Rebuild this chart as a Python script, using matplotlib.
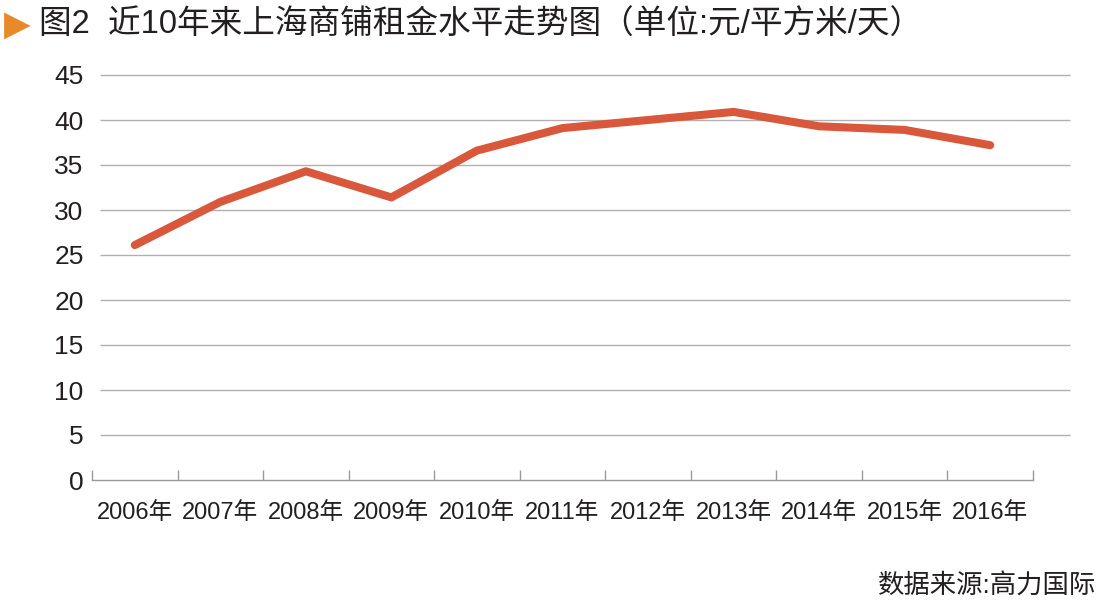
import numpy as np
import matplotlib.pyplot as plt

plt.rcParams['font.family'] = ['Liberation Sans', 'Noto Sans CJK SC']

# data
years = ['2006年', '2007年', '2008年', '2009年', '2010年', '2011年',
         '2012年', '2013年', '2014年', '2015年', '2016年']
rent = [26.1, 30.9, 34.3, 31.4, 36.6, 39.1, 40.0, 40.9, 39.3, 38.9, 37.2]
y_ticks = [0, 5, 10, 15, 20, 25, 30, 35, 40, 45]

title = '图2  近10年来上海商铺租金水平走势图（单位:元/平方米/天）'
source = '数据来源:高力国际'

text_color = '#231f20'
line_color = '#d9573a'
grid_color = '#b0b0b0'

fig = plt.figure(figsize=(11.01, 6.14), dpi=100)
ax = fig.add_axes([92 / 1101, 1 - 480 / 614, 941 / 1101, 405 / 614])

x = np.arange(len(years))
ax.plot(x, rent, color=line_color, linewidth=5.8, solid_capstyle='round',
        solid_joinstyle='round', zorder=3)

ax.set_xlim(-0.5, len(years) - 0.5)
ax.set_ylim(0, 45)

# horizontal grid lines run a little past the axis on the right
ax.hlines(y_ticks[1:], 0.009, 1.039, transform=ax.get_yaxis_transform(),
          colors=grid_color, linewidth=1.0, clip_on=False, zorder=1)

for side in ['top', 'right', 'left']:
    ax.spines[side].set_visible(False)
ax.spines['bottom'].set_color('#999999')
ax.spines['bottom'].set_linewidth(1.0)

ax.set_yticks(y_ticks)
ax.set_yticklabels([str(v) for v in y_ticks])
ax.tick_params(axis='y', length=0, pad=6, labelsize=19, labelcolor=text_color)

ax.set_xticks(x)
ax.set_xticklabels(years)
ax.tick_params(axis='x', which='major', length=0, pad=16, labelsize=17,
               labelcolor=text_color)
ax.set_xticks(np.arange(-0.5, len(years), 1.0), minor=True)
ax.tick_params(axis='x', which='minor', direction='in', length=7,
               width=1.0, color='#999999')

fig.text(4 / 1101, 1 - 25 / 614, '▶', color='#e8892a', fontsize=25,
         va='center', ha='left', family=['DejaVu Sans'])
fig.text(39 / 1101, 1 - 25 / 614, title, color=text_color, fontsize=23.5,
         va='center', ha='left')
fig.text(1096 / 1101, 1 - 585 / 614, source, color=text_color, fontsize=19,
         va='center', ha='right')

fig.savefig('out.png', dpi=100)
